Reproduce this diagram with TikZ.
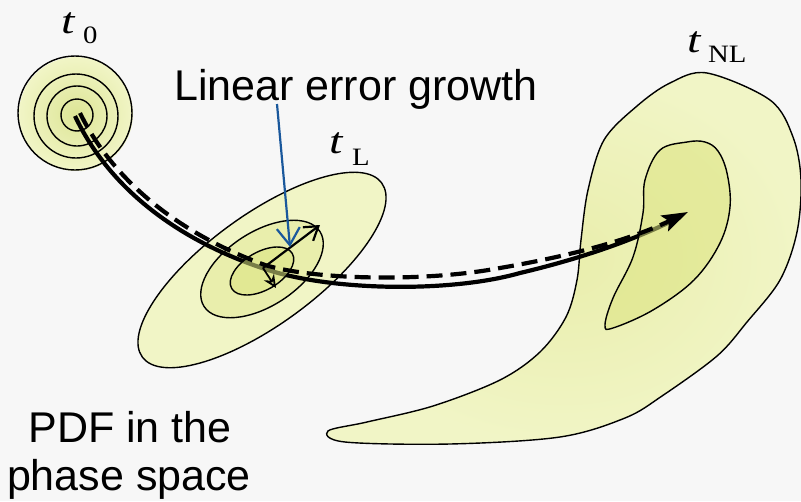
\documentclass[tikz,border=0pt]{standalone}
\usepackage{fontspec}
\setmainfont{Liberation Serif}
\setsansfont{Liberation Sans}
\usetikzlibrary{arrows.meta}
\definecolor{bg}{HTML}{F7F7F7}
\definecolor{pale}{HTML}{F1F5C6}
\definecolor{midy}{HTML}{E9EEAC}
\definecolor{deepy}{HTML}{DDE596}
\definecolor{overlay}{RGB}{220,228,128}
\definecolor{bluearr}{RGB}{26,88,156}
\begin{document}
\begin{tikzpicture}[x=1pt,y=-1pt,
  contour/.style={draw=black,line width=1.4pt},
  traj/.style={line width=4.2pt,black},
  dashtraj/.style={line width=4.2pt,black,dash pattern=on 16pt off 8pt},
  ovl/.style={fill=overlay,fill opacity=0.55,draw=black,line width=1.4pt},
  biglabel/.style={font=\sffamily\fontsize{43}{48}\selectfont,inner sep=0pt},
  tlab/.style={font=\fontsize{37}{40}\selectfont,inner sep=0pt,anchor=base west},
  sublab/.style={font=\fontsize{25}{28}\selectfont,inner sep=0pt,anchor=base west}]
\useasboundingbox (0,0) rectangle (801,501);
\fill[bg] (0,0) rectangle (801,501);

% initial PDF (circles)
\shade[inner color=deepy,outer color=pale] (76,114) circle[radius=57];
\draw[contour] (75,113) circle[radius=57];
\draw[contour] (76,116) circle[radius=42];
\draw[contour] (77,116) circle[radius=30];
\draw[contour] (77,115) circle[radius=16];

% linear stage ellipses
\fill[pale] (262,270) circle[x radius=148,y radius=55,rotate=36];
\draw[contour] (262,270) circle[x radius=148,y radius=55,rotate=36];
\fill[midy] (262,269) circle[x radius=69,y radius=37,rotate=33];
\draw[contour] (262,269) circle[x radius=69,y radius=37,rotate=33];

% nonlinear blob
\shade[contour,inner color=midy,outer color=pale] plot[smooth cycle,tension=0.55] coordinates {
  (707,73) (770,100) (793,137) (801,180) (797,232) (780,280) (747,322)
  (717,356) (662,396) (625,418) (560,437) (450,444) (345,442) (328,431)
  (367,422) (433,406) (500,380) (540,352) (566,317) (577,280) (581,240)
  (588,190) (604,140) (637,106) (670,83)};

% trajectory coordinates
\coordinate (s0) at (75,116);
\coordinate (d0) at (80,113);
\coordinate (tip) at (688,212);

% solid trajectory
\draw[traj] (s0) .. controls (110,190) and (180,241) .. (265,269)
  .. controls (330,291) and (450,293) .. (520,273)
  .. controls (575,260) and (630,242) .. (676,219);

% inner (transparent) regions over the solid trajectory
\path[ovl] (262,271) circle[x radius=35,y radius=19,rotate=30];
\path[ovl] plot[smooth cycle,tension=0.6] coordinates {
  (687,142) (705,142) (718,151) (727,173) (730,207) (720,243) (694,280)
  (653,310) (613,328) (605,325) (613,298) (633,257) (643,213) (645,180) (660,150)};

% dashed trajectory
\draw[dashtraj,-{Stealth[length=26pt,width=17pt,inset=5pt]}] (d0)
  .. controls (115,185) and (185,236) .. (265,265)
  .. controls (310,279) and (420,283) .. (500,268)
  .. controls (570,256) and (630,240) .. (tip);

% linear error growth vectors
\coordinate (ec) at (263,268);
\coordinate (e1) at (320,225);
\coordinate (e2) at (276,288);
\draw[line width=2.2pt,-{Straight Barb[length=13pt,width=17pt]}] (ec) -- (e1);
\draw[line width=1.8pt,-{Stealth[open,length=13pt,width=12pt]}] (ec) -- (e2);

% labels
\node[biglabel,anchor=base west] (lin) at (174,100) {Linear error growth};
\coordinate (bl0) at (277,104);
\coordinate (bl1) at (290,247);
\draw[bluearr,line width=2.2pt,-{Straight Barb[length=17pt,width=23pt]}] (bl0) -- (bl1);

\node[biglabel,anchor=base] (pdf) at (130,442) {PDF in the};
\node[biglabel,anchor=base] (ps) at (129,490) {phase space};

\node[tlab] (t0) at (61,33) {\scalebox{1.3}[1]{\itshape t}};
\node[sublab] (t0s) at (83,43) {\scalebox{1.15}[1]{0}};
\node[tlab] (tL) at (329,153) {\scalebox{1.3}[1]{\itshape t}};
\node[sublab] (tLs) at (352,165) {\scalebox{1.15}[1]{L}};
\node[tlab] (tNL) at (687,52) {\scalebox{1.3}[1]{\itshape t}};
\node[sublab] (tNLs) at (708,62) {\scalebox{1.15}[1]{NL}};
\end{tikzpicture}
\end{document}
